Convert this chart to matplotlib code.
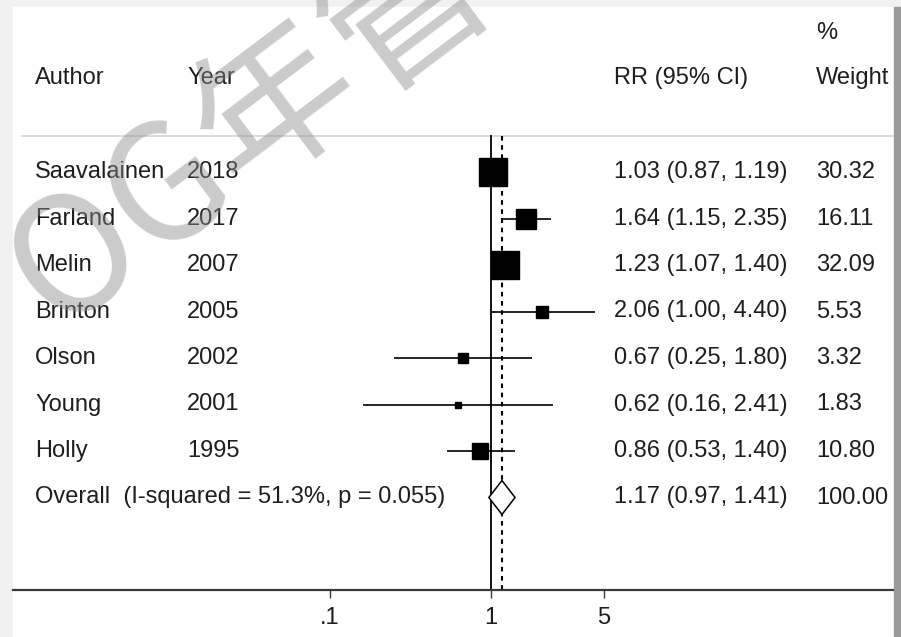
import numpy as np
import matplotlib.pyplot as plt
from matplotlib.patches import Polygon, Rectangle

plt.rcParams['font.family'] = ['Liberation Sans', 'DejaVu Sans']

# study data
authors = ['Saavalainen', 'Farland', 'Melin', 'Brinton', 'Olson', 'Young', 'Holly']
years = ['2018', '2017', '2007', '2005', '2002', '2001', '1995']
rr = [1.03, 1.64, 1.23, 2.06, 0.67, 0.62, 0.86]
lo = [0.87, 1.15, 1.07, 1.00, 0.25, 0.16, 0.53]
hi = [1.19, 2.35, 1.40, 4.40, 1.80, 2.41, 1.40]
weights = [30.32, 16.11, 32.09, 5.53, 3.32, 1.83, 10.80]

overall_label = 'Overall  (I-squared = 51.3%, p = 0.055)'
overall_rr, overall_lo, overall_hi = 1.17, 0.97, 1.41
overall_weight = '100.00'

W, H = 901, 637
fig = plt.figure(figsize=(W / 100, H / 100), dpi=100)
fig.patch.set_facecolor('#f1f1f1')
# white card + right shadow
fig.patches.append(Rectangle((13 / W, 0), (893 - 13) / W, 1 - 7 / H,
                             transform=fig.transFigure, color='white', zorder=-10))
fig.patches.append(Rectangle((894 / W, 0), 7 / W, 1 - 7 / H,
                             transform=fig.transFigure, color='#9a9a9a', zorder=-10))

ax = fig.add_axes([0, 0, 1, 1])
ax.patch.set_alpha(0)
ax.set_xscale('log')
dec = 161.0  # pixels per decade
x1 = 491.0   # pixel of RR = 1
ax.set_xlim(10 ** (-x1 / dec), 10 ** ((W - x1) / dec))
row0, step = 172.0, 46.5
ax.set_ylim((H - row0) / step, -row0 / step)


def py(p):
    return (p - row0) / step


def px(p):
    return 10 ** ((p - x1) / dec)


def colx(p):
    return p / W


txt = dict(fontsize=17, color='#1e1e1e', va='center', ha='left',
           transform=ax.get_yaxis_transform())

# header
ax.text(colx(35), py(78), 'Author', **txt)
ax.text(colx(187), py(78), 'Year', **txt)
ax.text(colx(614), py(78), 'RR (95% CI)', **txt)
ax.text(colx(816), py(33), '%', **txt)
ax.text(colx(816), py(78), 'Weight', **txt)
ax.plot([colx(22), colx(893)], [py(136), py(136)], color='#d4d4d4', lw=1.2,
        transform=ax.get_yaxis_transform())

rows = np.arange(len(authors))
for i in rows:
    ax.text(colx(35), i, authors[i], **txt)
    ax.text(colx(187), i, years[i], **txt)
    ax.text(colx(614), i, f'{rr[i]:.2f} ({lo[i]:.2f}, {hi[i]:.2f})', **txt)
    ax.text(colx(816), i, f'{weights[i]:.2f}', **txt)

# reference lines
ax.plot([1, 1], [py(136), py(590)], color='black', lw=1.3, zorder=2)
ax.plot([overall_rr, overall_rr], [py(136), py(590)], color='black', lw=1.5,
        ls=(0, (2.2, 2.2)), zorder=2)

# CI lines and weighted boxes
ax.hlines(rows, lo, hi, color='black', lw=1.2, zorder=3)
for i in rows:
    ax.plot(rr[i], i, marker='s', color='black', ls='none',
            markersize=np.sqrt(weights[i]) * 5 * 0.72, zorder=4)

# overall diamond
k = len(authors)
h = 17 / step
ax.add_patch(Polygon([(overall_lo, k), (overall_rr, k - h), (overall_hi, k),
                      (overall_rr, k + h)], closed=True, facecolor='white',
                     edgecolor='black', lw=1.1, zorder=5))
ax.text(colx(35), k, overall_label, **txt)
ax.text(colx(614), k, f'{overall_rr:.2f} ({overall_lo:.2f}, {overall_hi:.2f})', **txt)
ax.text(colx(816), k, overall_weight, **txt)

# x axis
for s in ['top', 'left', 'right']:
    ax.spines[s].set_visible(False)
ax.spines['bottom'].set_position(('data', py(590)))
ax.spines['bottom'].set_bounds(px(13), px(893))
ax.spines['bottom'].set_color('#3a3a3a')
ax.spines['bottom'].set_linewidth(1.6)
ax.set_yticks([])
ax.set_xticks([0.1, 1, 5])
ax.set_xticklabels(['.1', '1', '5'])
ax.xaxis.set_minor_locator(plt.NullLocator())
ax.tick_params(axis='x', direction='out', length=6, width=1, color='#3a3a3a',
               pad=6, labelsize=17, labelcolor='#1e1e1e')

# watermark
fig.text(250 / W, 1 - 128 / H, 'OG年管', fontsize=116, color='#8c8c8c', alpha=0.45,
         rotation=37, ha='center', va='center', rotation_mode='anchor',
         family=['Noto Sans CJK SC', 'DejaVu Sans'], zorder=10)

fig.savefig('out.png', dpi=100, facecolor=fig.get_facecolor())
